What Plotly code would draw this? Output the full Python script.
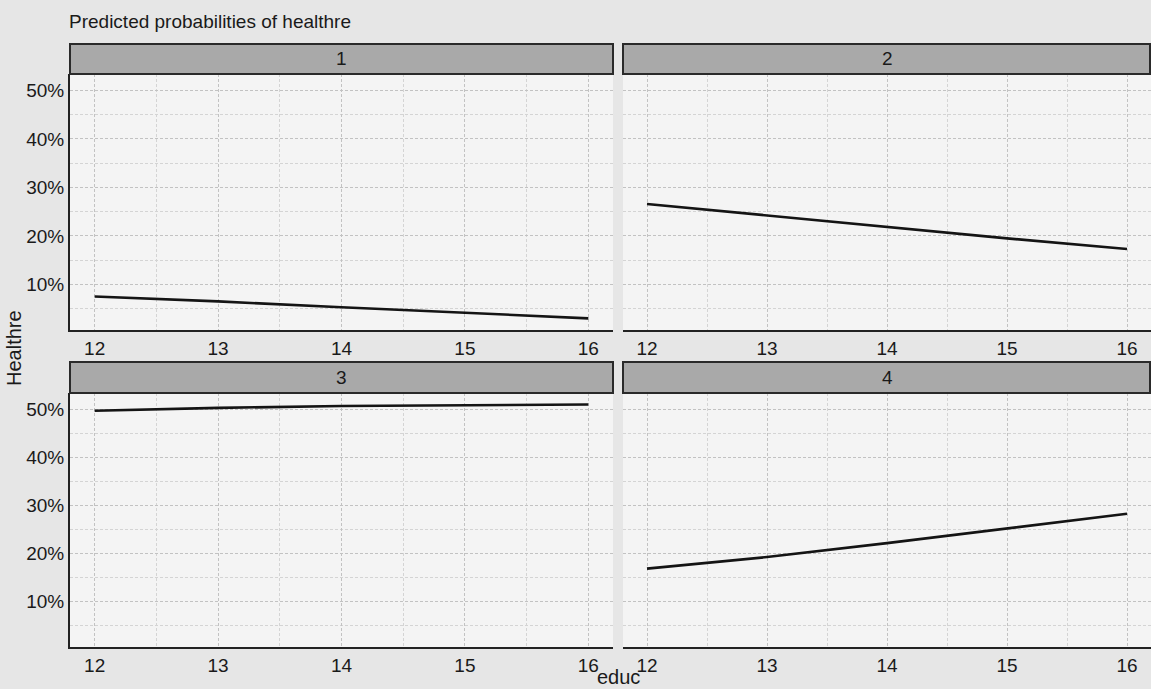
import plotly.graph_objects as go

educ = [12, 13, 14, 15, 16]
panel_labels = ["1", "2", "3", "4"]
p1 = [7.5, 6.5, 5.3, 4.1, 3.0]
p2 = [26.6, 24.2, 21.8, 19.5, 17.3]
p3 = [49.7, 50.3, 50.7, 50.9, 51.0]
p4 = [16.9, 19.3, 22.2, 25.2, 28.3]
series = [p1, p2, p3, p4]
y_ticks = [0.10, 0.20, 0.30, 0.40, 0.50]
x_ticks = [12, 13, 14, 15, 16]

W, H = 1151, 689
FONT = "Liberation Sans, Arial, Helvetica, sans-serif"
TXT = "#1a1a1a"

# pixel layout
xdom = [(70, 613), (623, 1151)]
ydom_plot = [(74, 330), (393, 647)]
ydom_strip = [(44, 74), (362, 393)]

def px(x):
    return x / W

def py(y):
    return 1 - y / H

fig = go.Figure()
shapes = []
annotations = []
for i, vals in enumerate(series):
    r, c = divmod(i, 2)
    n = i + 1
    xa = "x" if n == 1 else f"x{n}"
    ya = "y" if n == 1 else f"y{n}"
    fig.add_trace(go.Scatter(
        x=educ, y=[v / 100 for v in vals], mode="lines",
        line=dict(color="#141414", width=2.6),
        xaxis=xa, yaxis=ya, showlegend=False, hoverinfo="skip"))
    x0, x1 = xdom[c]
    ys0, ys1 = ydom_plot[r]
    axkey_x = "xaxis" if n == 1 else f"xaxis{n}"
    axkey_y = "yaxis" if n == 1 else f"yaxis{n}"
    fig.layout[axkey_x] = dict(
        domain=[px(x0), px(x1)], anchor=ya, range=[11.8, 16.2],
        tickvals=x_ticks, ticktext=[str(t) for t in x_ticks],
        showgrid=True, gridcolor="#c2c2c2", griddash="3px,2px", gridwidth=1,
        minor=dict(dtick=0.5, tick0=11.5, showgrid=True, gridcolor="#d4d4d4",
                   griddash="3px,2px", gridwidth=1),
        showline=True, linecolor="#222", linewidth=2, zeroline=False,
        ticks="", tickfont=dict(size=19, color=TXT, family=FONT))
    fig.layout[axkey_y] = dict(
        domain=[py(ys1), py(ys0)], anchor=xa, range=[0.006, 0.534],
        tickvals=y_ticks, tickformat=".0%",
        showticklabels=(c == 0),
        showgrid=True, gridcolor="#c2c2c2", griddash="3px,2px", gridwidth=1,
        minor=dict(dtick=0.05, tick0=0.05, showgrid=True, gridcolor="#d4d4d4",
                   griddash="3px,2px", gridwidth=1),
        showline=(c == 0), linecolor="#222", linewidth=2, zeroline=False,
        ticks="", tickfont=dict(size=19, color=TXT, family=FONT))
    s0, s1 = ydom_strip[r]
    shapes.append(dict(type="rect", xref="paper", yref="paper",
                       x0=px(x0), x1=px(min(x1, 1150)), y0=py(s1), y1=py(s0),
                       fillcolor="#a9a9a9", line=dict(color="#2a2a2a", width=2),
                       layer="above"))
    annotations.append(dict(text=panel_labels[i], xref="paper", yref="paper",
                            x=px((x0 + x1) / 2), y=py((s0 + s1) / 2),
                            showarrow=False, xanchor="center", yanchor="middle",
                            font=dict(size=19, color=TXT, family=FONT)))

annotations.append(dict(text="Predicted probabilities of healthre", xref="paper", yref="paper",
                        x=px(67), y=py(21), xanchor="left", yanchor="middle", showarrow=False,
                        font=dict(size=19, color=TXT, family=FONT)))
annotations.append(dict(text="Healthre", xref="paper", yref="paper",
                        x=px(14), y=py(348), xanchor="center", yanchor="middle", showarrow=False,
                        textangle=-90, font=dict(size=20, color=TXT, family=FONT)))
annotations.append(dict(text="educ", xref="paper", yref="paper",
                        x=px(618), y=py(677), xanchor="center", yanchor="middle", showarrow=False,
                        font=dict(size=20, color=TXT, family=FONT)))

fig.update_layout(
    width=W, height=H, margin=dict(l=0, r=0, t=0, b=0),
    paper_bgcolor="#e6e6e6", plot_bgcolor="#f4f4f4",
    shapes=shapes, annotations=annotations,
    font=dict(family=FONT, color=TXT))

fig.write_html("out.html", config={"displayModeBar": False},
               post_script="document.body.style.margin='0';document.body.style.padding='0';")
